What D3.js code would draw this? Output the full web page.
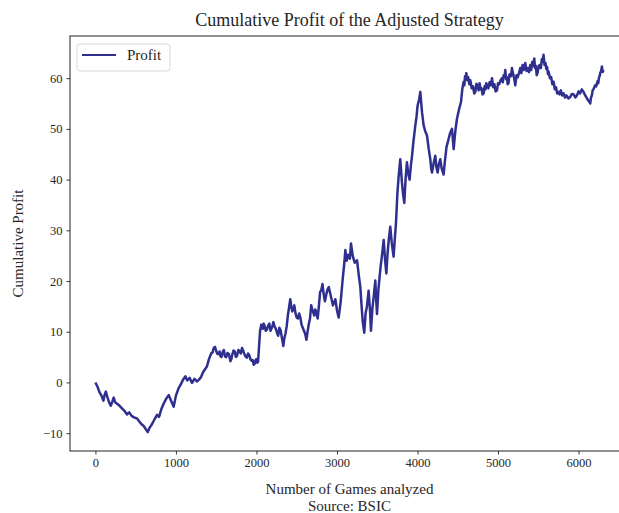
<!DOCTYPE html>
<html>
<head>
<meta charset="utf-8">
<script src="https://cdn.jsdelivr.net/npm/d3@7"></script>
<style>
  html, body { margin: 0; padding: 0; background: #fff; }
  svg { display: block; }
  text { font-family: "Liberation Serif", "DejaVu Serif", serif; fill: #262626; }
</style>
</head>
<body>
<svg id="chart" width="619" height="513"></svg>
<script>
// Cumulative profit after each analysed game (rows of ten, games and profit aligned)
const games = [
  0, 25, 50, 75, 100, 115, 130, 150, 170, 190,
  210, 227, 245, 270, 300, 330, 360, 393, 420, 450,
  480, 517, 540, 570, 600, 625, 650, 670, 700, 730,
  766, 790, 820, 850, 880, 910, 940, 972, 1000, 1034,
  1060, 1090, 1117, 1140, 1170, 1200, 1230, 1260, 1283, 1310,
  1340, 1370, 1386, 1410, 1440, 1455, 1469, 1485, 1500, 1515,
  1530, 1542, 1552, 1566, 1580, 1595, 1610, 1625, 1640, 1658,
  1676, 1688, 1700, 1715, 1730, 1745, 1760, 1775, 1790, 1805,
  1821, 1836, 1850, 1865, 1880, 1895, 1910, 1925, 1940, 1953,
  1966, 1978, 1990, 2000, 2010, 2020, 2030, 2045, 2060, 2070,
  2080, 2090, 2100, 2115, 2130, 2145, 2160, 2175, 2190, 2200,
  2210, 2225, 2240, 2255, 2270, 2285, 2300, 2318, 2334, 2347,
  2360, 2375, 2390, 2405, 2420, 2432, 2445, 2458, 2470, 2485,
  2500, 2515, 2530, 2545, 2560, 2575, 2590, 2605, 2620, 2635,
  2650, 2665, 2680, 2693, 2705, 2718, 2730, 2745, 2760, 2775,
  2790, 2805, 2820, 2835, 2850, 2865, 2880, 2898, 2917, 2950,
  2980, 3000, 3021, 3045, 3070, 3090, 3104, 3120, 3140, 3160,
  3174, 3195, 3220, 3249, 3270, 3290, 3305, 3320, 3339, 3355,
  3372, 3393, 3410, 3422, 3440, 3458, 3476, 3488, 3497, 3515,
  3540, 3560, 3580, 3598, 3613, 3630, 3645, 3662, 3680, 3703,
  3718, 3733, 3750, 3766, 3786, 3807, 3822, 3836, 3852, 3869,
  3885, 3902, 3918, 3932, 3950, 3973, 3988, 4001, 4020, 4035,
  4046, 4056, 4076, 4095, 4118, 4138, 4159, 4170, 4180, 4200,
  4221, 4235, 4250, 4265, 4283, 4300, 4324, 4340, 4360, 4386,
  4405, 4428, 4440, 4449, 4470, 4490, 4515, 4540, 4556, 4573,
  4582, 4590, 4598, 4606, 4618, 4630, 4643, 4656, 4673, 4690,
  4704, 4718, 4732, 4745, 4758, 4771, 4783, 4795, 4808, 4821,
  4833, 4845, 4854, 4863, 4880, 4895, 4910, 4925, 4940, 4955,
  4970, 4987, 5000, 5015, 5032, 5049, 5060, 5070, 5080, 5090,
  5100, 5110, 5120, 5131, 5140, 5150, 5162, 5173, 5185, 5195,
  5205, 5214, 5230, 5245, 5260, 5276, 5290, 5305, 5320, 5338,
  5355, 5370, 5385, 5400, 5412, 5425, 5438, 5450, 5460, 5470,
  5480, 5491, 5505, 5520, 5532, 5545, 5555, 5565, 5578, 5590,
  5600, 5610, 5620, 5628, 5645, 5660, 5675, 5690, 5705, 5720,
  5735, 5752, 5765, 5780, 5797, 5814, 5832, 5850, 5873, 5897,
  5918, 5940, 5960, 5980, 6000, 6020, 6040, 6062, 6076, 6090,
  6105, 6120, 6133, 6145, 6155, 6165, 6175, 6185, 6196, 6207,
  6220, 6235, 6245, 6255, 6262, 6269, 6280, 6290, 6300, 6311
];
const profit = [
  0.0, -0.8, -1.9, -2.6, -3.6, -2.4, -1.8, -3.0, -3.9, -4.6,
  -3.8, -3.0, -3.9, -4.2, -4.6, -5.1, -5.6, -6.3, -5.9, -6.6,
  -6.9, -7.1, -7.6, -8.2, -8.6, -9.2, -9.8, -9.0, -8.3, -7.4,
  -6.4, -6.8, -5.2, -4.1, -3.2, -2.5, -3.6, -4.8, -2.6, -1.1,
  -0.4, 0.6, 1.2, 0.4, 0.9, -0.1, 0.7, 0.2, 0.5, 1.0,
  2.1, 2.8, 3.2, 4.6, 5.8, 5.9, 6.8, 7.0, 6.2, 5.6,
  5.6, 6.1, 5.2, 5.0, 6.0, 6.4, 5.1, 5.0, 5.8, 5.6,
  4.2, 4.6, 5.5, 6.3, 6.1, 5.0, 5.3, 6.4, 6.2, 5.7,
  6.8, 6.2, 5.6, 5.1, 4.9, 5.7, 5.4, 4.6, 4.3, 4.4,
  3.5, 3.7, 4.4, 4.6, 3.9, 4.1, 6.5, 10.2, 11.4, 10.8,
  10.6, 11.6, 11.2, 10.2, 10.4, 11.2, 11.6, 10.2, 10.8, 11.2,
  11.9, 11.0, 10.6, 9.8, 9.2, 10.8, 10.3, 8.6, 7.2, 8.8,
  9.6, 11.0, 13.2, 14.8, 16.4, 15.0, 14.0, 14.6, 15.2, 13.6,
  12.8, 12.6, 13.6, 12.8, 11.4, 10.8, 10.2, 9.6, 8.4, 10.0,
  11.5, 12.6, 15.2, 14.4, 13.8, 13.2, 14.4, 13.8, 12.6, 15.0,
  17.8, 18.2, 19.4, 17.4, 16.0, 17.2, 18.2, 18.8, 17.5, 15.2,
  16.4, 14.2, 12.8, 15.8, 20.2, 23.4, 26.1, 24.0, 25.2, 24.4,
  27.4, 25.0, 23.6, 24.1, 21.2, 18.8, 15.2, 12.0, 9.8, 13.6,
  15.0, 18.1, 14.2, 10.2, 14.6, 17.2, 20.1, 16.0, 13.5, 18.4,
  22.6, 25.2, 28.1, 24.0, 21.5, 25.8, 28.4, 30.7, 27.6, 24.8,
  28.2, 31.5, 37.2, 40.7, 44.0, 39.4, 37.0, 35.4, 40.2, 43.4,
  41.2, 40.0, 42.8, 44.7, 47.6, 50.7, 52.4, 54.6, 55.8, 57.3,
  55.2, 53.3, 50.7, 49.6, 48.7, 46.2, 44.0, 42.2, 41.4, 43.2,
  44.7, 42.4, 41.4, 43.0, 44.0, 42.2, 41.0, 43.6, 46.4, 48.0,
  49.2, 50.0, 47.8, 46.0, 49.6, 52.0, 53.8, 55.3, 57.8, 59.3,
  58.6, 60.4, 59.8, 61.0, 59.6, 60.2, 58.8, 59.6, 58.0, 58.4,
  57.0, 57.3, 58.9, 58.6, 57.6, 59.0, 57.8, 58.0, 56.8, 57.0,
  58.4, 57.8, 59.0, 58.6, 58.0, 59.2, 58.6, 60.0, 58.2, 58.8,
  57.4, 57.6, 59.0, 58.8, 59.6, 60.0, 59.2, 60.6, 60.2, 61.6,
  59.8, 60.2, 58.8, 59.0, 60.6, 60.8, 60.4, 62.0, 61.0, 60.4,
  59.6, 58.6, 60.6, 60.2, 61.0, 62.0, 61.0, 62.6, 61.6, 63.0,
  61.4, 62.0, 61.2, 62.6, 61.6, 63.2, 62.4, 63.9, 62.0, 62.4,
  60.6, 61.0, 62.4, 62.6, 62.0, 63.8, 63.2, 64.6, 62.6, 63.0,
  61.8, 62.2, 60.8, 61.3, 60.0, 60.2, 58.8, 59.3, 57.8, 58.2,
  57.0, 57.3, 56.8, 57.6, 56.6, 57.0, 56.2, 56.6, 56.0, 56.3,
  56.9, 56.8, 56.2, 56.6, 57.4, 57.0, 57.8, 57.3, 56.8, 56.4,
  56.0, 55.6, 55.4, 55.0, 56.2, 56.6, 57.6, 57.8, 58.2, 58.6,
  58.4, 59.4, 59.0, 60.2, 60.4, 61.0, 61.4, 62.3, 61.2, 61.6
];
const yTicks = [-10, 0, 10, 20, 30, 40, 50, 60];
const xTicks = [0, 1000, 2000, 3000, 4000, 5000, 6000];
const seriesName = "Profit";

(function draw() {
  const data = games.map((g, i) => ({ g, v: profit[i] }));

  const svg = d3.select("#chart");
  const mLeft = 70, mRight = 629, mTop = 36, mBottom = 451;
  const lineColor = "#2f2f8f";

  // 5% padding on each side of the data extent
  function padded(ext) {
    const p = (ext[1] - ext[0]) * 0.05;
    return [ext[0] - p, ext[1] + p];
  }
  const x = d3.scaleLinear().domain(padded(d3.extent(games))).range([mLeft, mRight]);
  const y = d3.scaleLinear().domain(padded(d3.extent(profit))).range([mBottom, mTop]);

  // Profit line
  svg.append("path")
    .datum(data)
    .attr("fill", "none")
    .attr("stroke", lineColor)
    .attr("stroke-width", 2.5)
    .attr("stroke-linejoin", "round")
    .attr("d", d3.line().x(d => x(d.g)).y(d => y(d.v)));

  // Axes
  const xAxis = svg.append("g")
    .attr("transform", `translate(0,${mBottom})`)
    .call(d3.axisBottom(x).tickValues(xTicks).tickFormat(d3.format("d")).tickSizeOuter(0).tickSize(3.5).tickPadding(4));
  const yAxis = svg.append("g")
    .attr("transform", `translate(${mLeft},0)`)
    .call(d3.axisLeft(y).tickValues(yTicks).tickFormat(d => d < 0 ? "\u2212" + Math.abs(d) : d).tickSizeOuter(0).tickSize(3.5).tickPadding(4));

  [xAxis, yAxis].forEach(a => {
    a.selectAll("path.domain").remove();
    a.selectAll("line").attr("stroke", "#222").attr("stroke-width", 0.9);
    a.selectAll("text").style("font-size", "12.5px").attr("fill", "#333");
  });

  // Frame (right edge falls outside the visible area)
  svg.append("rect")
    .attr("x", mLeft).attr("y", mTop)
    .attr("width", mRight - mLeft).attr("height", mBottom - mTop)
    .attr("fill", "none").attr("stroke", "#222").attr("stroke-width", 1);

  // Title and labels
  svg.append("text")
    .attr("x", (mLeft + mRight) / 2).attr("y", 26)
    .attr("text-anchor", "middle").style("font-size", "18px")
    .text("Cumulative Profit of the Adjusted Strategy");

  svg.append("text")
    .attr("x", (mLeft + mRight) / 2).attr("y", 494)
    .attr("text-anchor", "middle").style("font-size", "15px")
    .text("Number of Games analyzed");
  svg.append("text")
    .attr("x", (mLeft + mRight) / 2).attr("y", 511)
    .attr("text-anchor", "middle").style("font-size", "15px")
    .text("Source: BSIC");

  svg.append("text")
    .attr("transform", `translate(23,${(mTop + mBottom) / 2}) rotate(-90)`)
    .attr("text-anchor", "middle").style("font-size", "15px")
    .text("Cumulative Profit");

  // Legend
  const lg = svg.append("g").attr("transform", "translate(77,44)");
  lg.append("rect")
    .attr("width", 93).attr("height", 27).attr("rx", 3)
    .attr("fill", "#fff").attr("fill-opacity", 0.8)
    .attr("stroke", "#d8d8d8").attr("stroke-width", 1);
  lg.append("line")
    .attr("x1", 5).attr("x2", 39).attr("y1", 11).attr("y2", 11)
    .attr("stroke", lineColor).attr("stroke-width", 2.2);
  lg.append("text")
    .attr("x", 50).attr("y", 16).style("font-size", "15px")
    .text(seriesName);
})();
</script>
</body>
</html>
